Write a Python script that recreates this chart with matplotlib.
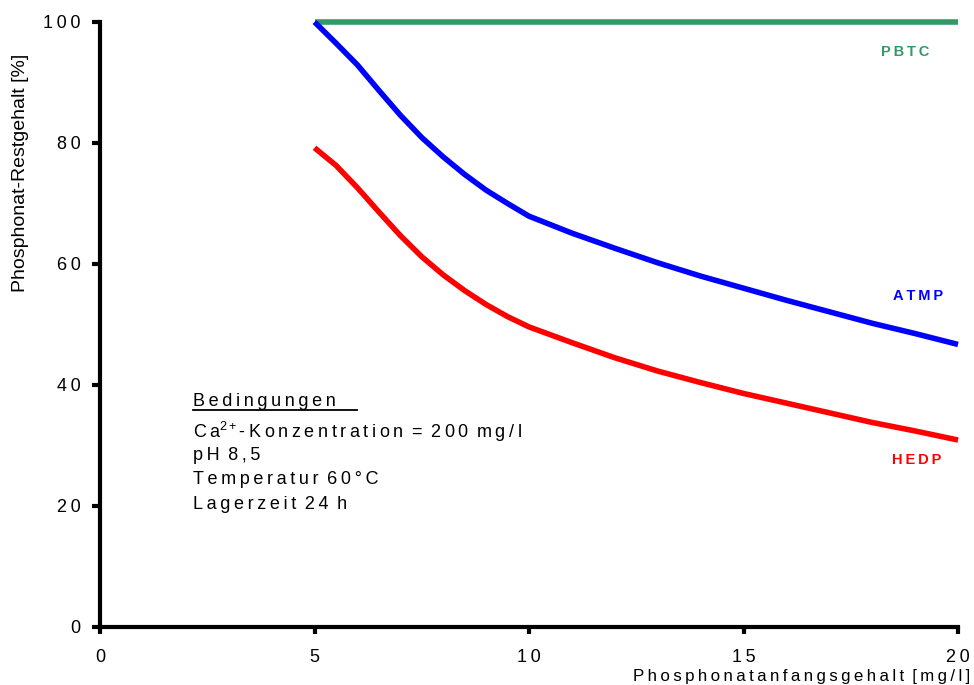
import matplotlib
import matplotlib.pyplot as plt

matplotlib.use("Agg")

plt.rcParams["font.family"] = ["Liberation Sans", "DejaVu Sans"]
plt.rcParams["mathtext.fontset"] = "custom"
plt.rcParams["mathtext.rm"] = "Liberation Sans"
plt.rcParams["mathtext.it"] = "Liberation Sans:italic"

# data
conc = [5, 5.5, 6, 6.5, 7, 7.5, 8, 8.5, 9, 9.5, 10, 11, 12, 13, 14, 15, 16, 17, 18, 19, 20]
atmp = [100, 96.5, 92.9, 88.7, 84.6, 80.9, 77.7, 74.8, 72.2, 70.0, 67.9,
        65.1, 62.6, 60.2, 58.0, 56.0, 54.0, 52.1, 50.2, 48.5, 46.7]
hedp = [79.2, 76.3, 72.6, 68.6, 64.7, 61.2, 58.2, 55.6, 53.3, 51.3, 49.6,
        47.0, 44.5, 42.3, 40.4, 38.6, 37.0, 35.4, 33.8, 32.4, 30.9]
pbtc_x = [5, 20]
pbtc = [100, 100]

xticks = [0, 5, 10, 15, 20]
yticks = [0, 20, 40, 60, 80, 100]

conditions = ["pH 8,5", "Temperatur 60°C", "Lagerzeit 24 h"]

TS = "\u2009"


def track(s):
    # old export had wide letter spacing; no extra gap after a word space
    out = ""
    for i, ch in enumerate(s):
        out += ch
        if i < len(s) - 1 and ch != " ":
            out += TS
    return out


fig = plt.figure(figsize=(9.74, 6.85), dpi=100)
ax = fig.add_axes([0.1027, 0.0847, 0.8809, 0.8832])

ax.plot(pbtc_x, pbtc, color="#339966", linewidth=4, clip_on=False, solid_capstyle="butt")
ax.plot(conc, atmp, color="#0000ff", linewidth=4, clip_on=False, solid_capstyle="butt")
ax.plot(conc, hedp, color="#ff0000", linewidth=4, clip_on=False, solid_capstyle="butt")

ax.set_xlim(0, 20)
ax.set_ylim(0, 100)
ax.set_xticks(xticks, [track(str(v)) for v in xticks])
ax.set_yticks(yticks, [track(str(v)) for v in yticks])
for side in ("top", "right"):
    ax.spines[side].set_visible(False)
for side in ("left", "bottom"):
    ax.spines[side].set_linewidth(3)
ax.tick_params(axis="y", direction="out", length=6, width=3, labelsize=13, pad=8)
ax.tick_params(axis="x", direction="out", length=5, width=3, labelsize=13, pad=11)

lbl = dict(fontsize=10.5, fontweight="bold", ha="center", va="center")
ax.text(18.76, 95.1, track("PBTC"), color="#339966", **lbl)
ax.text(19.07, 54.7, track("ATMP"), color="#0000ff", **lbl)
ax.text(19.04, 27.6, track("HEDP"), color="#ff0000", **lbl)

ax.text(2.17, 37.3, track("Bedingungen"), fontsize=13, va="center", ha="left")
ax.plot([2.17, 6.0], [35.9, 35.9], color="black", linewidth=1.3, clip_on=False)
ax.text(2.17, 32.3, "C" + TS + "a$^{2+}$" + track("-Konzentration = 200 mg/l"),
        fontsize=13, va="center", ha="left")
for i, line in enumerate(conditions):
    ax.text(2.17, 28.3 - i * 4.0, track(line), fontsize=13, va="center", ha="left")

fig.text(0.021, 0.747, "Phosphonat-Restgehalt [%]", rotation=90, fontsize=14,
         ha="center", va="center")
fig.text(0.996, 0.013, track("Phosphonatanfangsgehalt [mg/l]"), fontsize=12.2,
         ha="right", va="center")

fig.savefig("out.png", dpi=100, facecolor="white")
